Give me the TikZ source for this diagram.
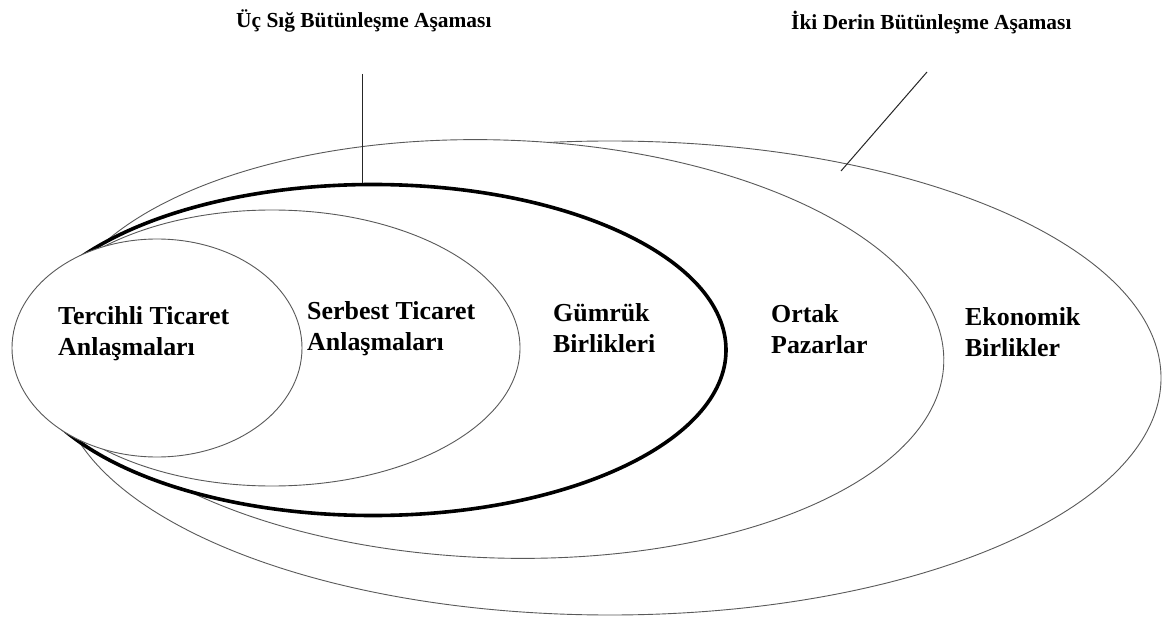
\documentclass[tikz,border=0pt]{standalone}
\usepackage{fontspec}
\setmainfont{Liberation Serif}
\usetikzlibrary{shapes.geometric}
\begin{document}
\begin{tikzpicture}[x=1bp,y=-1bp,
  ring/.style={ellipse, draw=black!65, line width=0.9bp, fill=white, inner sep=0pt},
  thickring/.style={ring, draw=black, line width=3.6bp},
  lbl/.style={font=\bfseries\fontsize{26}{30.5}\selectfont, align=left, inner sep=0pt, anchor=base west},
  ttl/.style={font=\bfseries\fontsize{21.5}{24}\selectfont, inner sep=0pt, anchor=base west},
  lead/.style={draw=black!85, line width=1bp}]
\useasboundingbox[fill=white] (0,0) rectangle (1164,619);
% ellipses, largest first, each white-filled
\node[ring, minimum width=1102bp, minimum height=474bp] (eko) at (610,378) {};
\node[ring, minimum width=890bp, minimum height=418bp, rotate=-1.82] (ort) at (499,349) {};
\node[thickring, minimum width=706bp, minimum height=331bp] (gum) at (373,350) {};
\node[ring, minimum width=496bp, minimum height=276bp] (ser) at (272,348) {};
\node[ring, minimum width=290bp, minimum height=218bp] (ter) at (157,348) {};
% labels (anchor is the baseline of the last line)
\node[lbl] (lter) at (58,355) {Tercihli Ticaret\\Anlaşmaları};
\node[lbl] (lser) at (307,350) {Serbest Ticaret\\Anlaşmaları};
\node[lbl] (lgum) at (553,352) {Gümrük\\Birlikleri};
\node[lbl] (lort) at (771,353) {Ortak\\Pazarlar};
\node[lbl] (leko) at (965,356) {Ekonomik\\Birlikler};
% titles
\node[ttl] (s1) at (236,28) {Üç Sığ Bütünleşme Aşaması};
\node[ttl] (s2) at (791,30) {İki Derin Bütünleşme Aşaması};
% leader lines
\coordinate (c1) at (362,74);
\coordinate (c2) at (927,72);
\coordinate (c3) at (841,171);
\draw[lead] (c1) -- (c1 |- gum.north);
\draw[lead] (c2) -- (c3);
\end{tikzpicture}
\end{document}
